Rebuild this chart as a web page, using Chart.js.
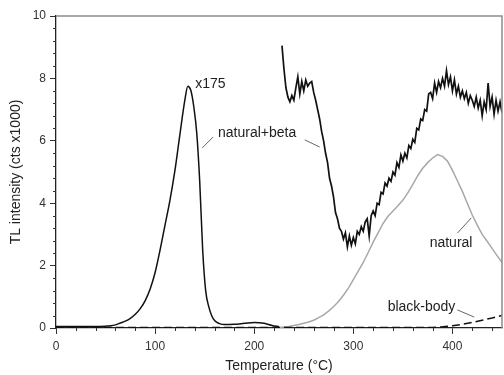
<!DOCTYPE html>
<html>
<head>
<meta charset="utf-8">
<script src="https://cdn.jsdelivr.net/npm/chart.js@4/dist/chart.umd.min.js"></script>
<style>
  html, body { margin: 0; padding: 0; background: #fff; }
  #wrap { width: 504px; height: 375px; }
</style>
</head>
<body>
<div id="wrap"><canvas id="c"></canvas></div>
<script>
// Glow curve of the natural+beta sample, scaled down x175 (temperature °C, counts x1000)
const x175Temp   = [0, 20, 40, 50, 55, 60, 65, 70, 75, 80, 85, 90, 95, 100, 105, 110, 115, 120, 125, 130, 133, 136, 139, 142, 145, 148, 151, 154, 157, 160, 165, 170, 180, 190, 200, 210, 218, 225];
const x175Counts = [0.05, 0.05, 0.05, 0.06, 0.07, 0.10, 0.16, 0.22, 0.31, 0.44, 0.62, 0.88, 1.25, 1.78, 2.50, 3.30, 4.10, 5.05, 6.20, 7.30, 7.75, 7.62, 7.10, 6.25, 4.70, 2.50, 1.20, 0.70, 0.40, 0.24, 0.14, 0.11, 0.12, 0.15, 0.18, 0.15, 0.08, 0.04];

// Natural+beta glow curve, unscaled
const betaTemp = [228, 230, 232, 234, 236, 238, 240, 242, 244, 246, 248, 250, 252, 254, 256, 258, 260, 262, 264, 266, 268, 270, 272, 274, 276, 278, 280, 282, 284, 286, 288, 290, 292, 294, 296, 298, 300, 302, 304, 306, 308, 310, 312, 314, 316, 318, 320, 322, 324, 326, 328, 330, 332, 334, 336, 338, 340, 342, 344, 346, 348, 350, 352, 354, 356, 358, 360, 362, 364, 366, 368, 370, 372, 374, 376, 378, 380, 382, 384, 386, 388, 390, 392, 394, 396, 398, 400, 402, 404, 406, 408, 410, 412, 414, 416, 418, 420, 422, 424, 426, 428, 430, 432, 434, 436, 438, 440, 442, 444, 446, 448, 450];
const betaCounts = [9.05, 8.30, 7.70, 7.40, 7.25, 7.45, 7.30, 7.70, 8.05, 7.50, 7.90, 7.60, 7.95, 7.75, 7.85, 7.90, 7.55, 7.30, 7.00, 6.70, 6.30, 6.00, 5.60, 5.30, 4.80, 4.55, 4.20, 3.70, 3.50, 3.20, 3.10, 2.85, 3.05, 2.60, 2.95, 2.65, 2.90, 2.70, 3.10, 3.00, 3.25, 3.10, 3.40, 3.50, 2.95, 3.60, 3.75, 3.60, 4.00, 3.95, 4.35, 4.30, 4.65, 4.55, 4.80, 4.70, 5.00, 4.90, 5.30, 5.15, 5.55, 5.35, 5.60, 5.45, 5.85, 5.75, 6.05, 5.95, 6.40, 6.35, 6.70, 6.65, 7.00, 6.95, 7.50, 7.55, 7.35, 7.85, 7.55, 7.90, 7.70, 8.00, 7.75, 8.25, 7.80, 8.05, 7.60, 7.95, 7.50, 7.75, 7.40, 7.60, 7.35, 7.55, 7.20, 7.45, 7.30, 7.10, 7.40, 7.05, 7.30, 6.80, 7.25, 7.00, 7.85, 7.10, 7.40, 6.85, 7.30, 6.95, 7.25, 6.90];

// Natural glow curve
const naturalTemp   = [225, 230, 235, 240, 245, 250, 255, 260, 265, 270, 275, 280, 285, 290, 295, 300, 305, 310, 315, 320, 325, 330, 335, 340, 345, 350, 355, 360, 365, 370, 375, 380, 385, 390, 395, 400, 405, 410, 415, 420, 425, 430, 435, 440, 445, 450];
const naturalCounts = [0.02, 0.03, 0.05, 0.08, 0.11, 0.15, 0.19, 0.25, 0.33, 0.42, 0.54, 0.68, 0.85, 1.05, 1.28, 1.55, 1.82, 2.10, 2.42, 2.75, 3.05, 3.35, 3.58, 3.75, 3.92, 4.10, 4.33, 4.60, 4.88, 5.12, 5.30, 5.45, 5.56, 5.50, 5.35, 5.05, 4.72, 4.38, 4.00, 3.62, 3.30, 3.00, 2.78, 2.55, 2.32, 2.10];

// Black-body (empty heating) signal
const blackTemp   = [0, 100, 200, 300, 380, 390, 400, 410, 420, 430, 440, 450];
const blackCounts = [0.02, 0.02, 0.02, 0.02, 0.02, 0.04, 0.07, 0.12, 0.18, 0.25, 0.32, 0.40];

// Axis ticks
const xMajorTicks = [0, 100, 200, 300, 400];
const yMajorTicks = [0, 2, 4, 6, 8, 10];

const FONT = "'Liberation Sans', Arial, Helvetica, sans-serif";
const INK = '#222';

function points(temps, counts) {
  return temps.map((t, i) => ({ x: t, y: counts[i] }));
}

// Minor ticks, grey frame on the top/right, and curve annotations
const decorations = {
  id: 'decorations',
  afterDraw(chart) {
    const { ctx, chartArea: a, scales: { x, y } } = chart;
    ctx.save();

    // frame top and right
    ctx.strokeStyle = '#8c8c8c';
    ctx.lineWidth = 1.5;
    ctx.beginPath();
    ctx.moveTo(a.left, a.top);
    ctx.lineTo(a.right, a.top);
    ctx.lineTo(a.right, a.bottom);
    ctx.stroke();

    // minor ticks (5 per major interval)
    ctx.strokeStyle = '#333';
    ctx.lineWidth = 1;
    ctx.beginPath();
    for (let v = 20; v <= 450; v += 20) {
      if (v % 100 === 0) continue;
      const px = Math.round(x.getPixelForValue(v)) + 0.5;
      ctx.moveTo(px, a.bottom);
      ctx.lineTo(px, a.bottom + 3);
    }
    for (let k = 1; k < 25; k++) {
      if (k % 5 === 0) continue;
      const py = Math.round(y.getPixelForValue(k * 0.4)) + 0.5;
      ctx.moveTo(a.left, py);
      ctx.lineTo(a.left - 3, py);
    }
    ctx.stroke();

    // leader lines
    const leaders = [
      [147.5, 5.77, 158.5, 6.12],
      [251, 6.03, 266, 5.80],
      [405, 3.04, 419, 3.53],
      [405, 0.58, 422, 0.35]
    ];
    ctx.strokeStyle = '#666';
    ctx.lineWidth = 1;
    ctx.beginPath();
    leaders.forEach(([t1, v1, t2, v2]) => {
      ctx.moveTo(x.getPixelForValue(t1), y.getPixelForValue(v1));
      ctx.lineTo(x.getPixelForValue(t2), y.getPixelForValue(v2));
    });
    ctx.stroke();

    // labels
    const labels = [
      ['x175', 140.5, 7.8],
      ['natural+beta', 163.5, 6.25],
      ['natural', 377, 2.72],
      ['black-body', 334.6, 0.67]
    ];
    ctx.fillStyle = INK;
    ctx.font = `14px ${FONT}`;
    ctx.textAlign = 'left';
    ctx.textBaseline = 'middle';
    labels.forEach(([txt, t, v]) => {
      ctx.fillText(txt, x.getPixelForValue(t), y.getPixelForValue(v));
    });

    ctx.restore();
  }
};

new Chart(document.getElementById('c'), {
  type: 'line',
  data: {
    datasets: [
      {
        label: 'black-body',
        data: points(blackTemp, blackCounts),
        borderColor: '#111',
        borderWidth: 1.5,
        borderDash: [8, 4],
        pointRadius: 0,
        tension: 0
      },
      {
        label: 'natural',
        data: points(naturalTemp, naturalCounts),
        borderColor: '#a8a8a8',
        borderWidth: 1.5,
        pointRadius: 0,
        tension: 0
      },
      {
        label: 'x175',
        data: points(x175Temp, x175Counts),
        borderColor: '#111',
        borderWidth: 1.5,
        pointRadius: 0,
        cubicInterpolationMode: 'monotone'
      },
      {
        label: 'natural+beta',
        data: points(betaTemp, betaCounts),
        borderColor: '#111',
        borderWidth: 1.7,
        pointRadius: 0,
        tension: 0
      }
    ]
  },
  options: {
    responsive: true,
    maintainAspectRatio: false,
    animation: false,
    devicePixelRatio: 1,
    layout: { padding: { top: 16, right: 2, left: 0, bottom: 0 } },
    plugins: { legend: { display: false }, tooltip: { enabled: false } },
    scales: {
      x: {
        type: 'linear',
        min: 0,
        max: 450,
        afterBuildTicks(s) { s.ticks = xMajorTicks.map(v => ({ value: v })); },
        afterFit(s) { s.height = 47; },
        ticks: { color: '#333', font: { family: FONT, size: 12 }, padding: 5, maxRotation: 0 },
        grid: { drawOnChartArea: false, drawTicks: true, tickLength: 6, color: '#333' },
        border: { display: true, color: '#222', width: 1.3 },
        title: { display: true, text: 'Temperature (°C)', color: INK, font: { family: FONT, size: 14 }, padding: { top: 0, bottom: 0 } }
      },
      y: {
        type: 'linear',
        min: 0,
        max: 10,
        afterBuildTicks(s) { s.ticks = yMajorTicks.map(v => ({ value: v })); },
        afterFit(s) { s.width = 56; },
        ticks: { color: '#333', font: { family: FONT, size: 12 }, padding: 4 },
        grid: { drawOnChartArea: false, drawTicks: true, tickLength: 6, color: '#333' },
        border: { display: true, color: '#222', width: 1.3 },
        title: { display: true, text: 'TL intensity (cts x1000)', color: INK, font: { family: FONT, size: 14 }, padding: { top: 8, bottom: 0 } }
      }
    }
  },
  plugins: [decorations]
});
</script>
</body>
</html>
